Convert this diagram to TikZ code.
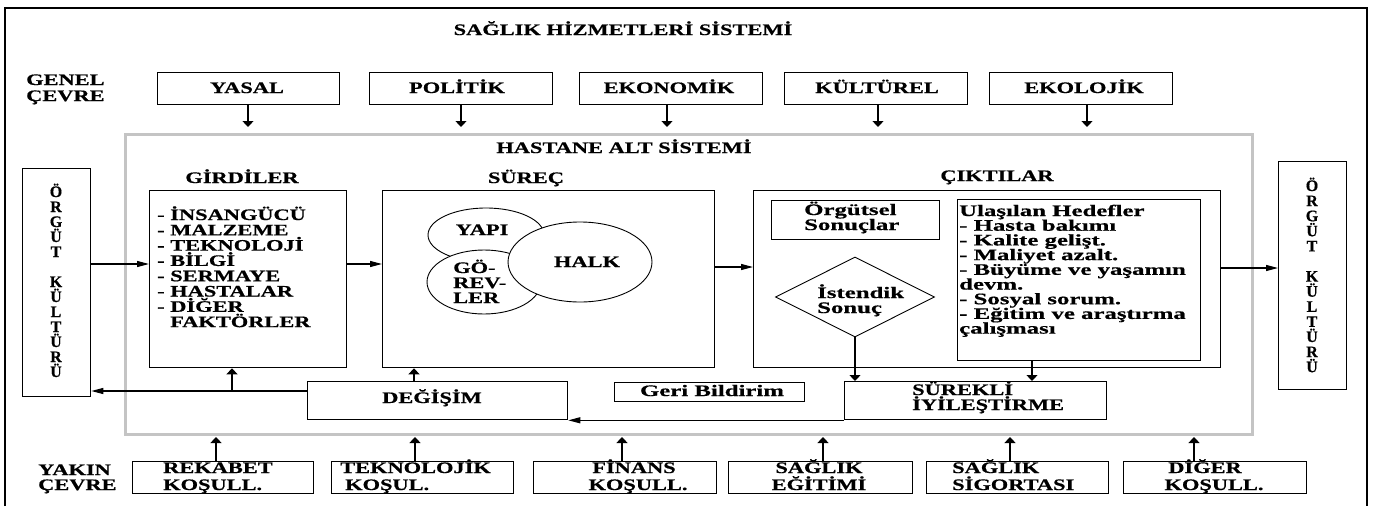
\documentclass[tikz,border=0pt]{standalone}
\usepackage{fontspec}
\usetikzlibrary{arrows.meta,shapes.geometric}
\newfontfamily\capf{Liberation Serif}[FakeStretch=1.4,FakeBold=0.6]
\newfontfamily\lowf{Liberation Serif}[FakeStretch=1.55,FakeBold=0.6]
\newfontfamily\plainf{Liberation Serif}[FakeBold=0.6]
\definecolor{hgray}{RGB}{196,196,196}
\newcommand\bx[6][]{\node[box,#1,minimum width={(#5-#3)*1pt},minimum height={(#6-#4)*1pt}] (#2) at (#3,#4) {};}
\begin{document}
\begin{tikzpicture}[x=1pt,y=-1pt,
  box/.style={draw, line width=1.3pt, inner sep=0pt, anchor=north west},
  captxt/.style={font=\capf\bfseries\fontsize{16}{16}\selectfont, inner sep=0pt},
  lowtxt/.style={font=\lowf\bfseries\fontsize{16}{16}\selectfont, inner sep=0pt},
  verttxt/.style={font=\plainf\bfseries\fontsize{16}{16}\selectfont, inner sep=0pt, anchor=base},
  conn/.style={line width=1.2pt},
  harr/.style={conn, -{Triangle[length=12pt,width=6pt]}},
  varr/.style={conn, -{Triangle[length=6pt,width=11pt]}},
  thinshape/.style={draw, line width=0.9pt, inner sep=0pt, fill=white},
]
\useasboundingbox (0,0) rectangle (1383,506);
\fill[white] (0,0) rectangle (1383,506);
% outer frame
\draw[line width=1.5pt] (5,506) -- (5,8) -- (1367,8) -- (1367,506);

% titles
\node[captxt, anchor=base] (title) at (623,35) {SAĞLIK HİZMETLERİ SİSTEMİ};
\node[captxt, anchor=base west] (gen1) at (26,85) {GENEL};
\node[captxt, anchor=base west] (gen2) at (26,101) {ÇEVRE};
\node[captxt, anchor=base west] (yak1) at (38,475) {YAKIN};
\node[captxt, anchor=base west] (yak2) at (38,490) {ÇEVRE};

% top boxes
\bx{yasal}{157}{72}{339}{104}
\bx{politik}{369}{72}{552}{104}
\bx{ekonomik}{579}{72}{762}{104}
\bx{kulturel}{784}{72}{967}{104}
\bx{ekolojik}{989}{72}{1172}{104}
\node[captxt, anchor=base] (yasalt) at (247,93) {YASAL};
\node[captxt, anchor=base] (politikt) at (457,93) {POLİTİK};
\node[captxt, anchor=base] (ekonomikt) at (669,93) {EKONOMİK};
\node[captxt, anchor=base] (kulturelt) at (877,93) {KÜLTÜREL};
\node[captxt, anchor=base] (ekolojikt) at (1084,93) {EKOLOJİK};

% hospital subsystem
\bx[draw=hgray, line width=3pt]{hastane}{124}{133}{1251}{433}
\node[captxt, anchor=base] (hastanet) at (624,153) {HASTANE ALT SİSTEMİ};

% organisational culture boxes
\bx{lorg}{22}{168}{90}{396}
\bx{rorg}{1278}{161}{1346}{389}
\foreach \t [count=\i from 0] in {Ö,R,G,Ü,T,,K,Ü,L,T,Ü,R,Ü}{
  \node[verttxt] (lo\i) at (56,{197+15*\i}) {\t};
  \node[verttxt] (ro\i) at (1312,{191+15.1*\i}) {\t};
}

% inputs
\node[captxt, anchor=base] (girdt) at (242,183) {GİRDİLER};
\bx{gird}{149}{190}{346}{367}
\foreach \t [count=\i from 0] in {- İNSANGÜCÜ,- MALZEME,- TEKNOLOJİ,- BİLGİ,- SERMAYE,- HASTALAR,- DİĞER,\phantom{- }FAKTÖRLER}{
  \node[captxt, anchor=base west] (gl\i) at (157,{220+15.3*\i}) {\t};
}

% process
\node[captxt, anchor=base] (surect) at (526,183) {SÜREÇ};
\bx{surec}{382}{190}{714}{367}
\node[thinshape, ellipse, minimum width=116pt, minimum height=54pt] (yapi) at (486,235) {};
\node[thinshape, ellipse, minimum width=114pt, minimum height=64pt] (gorev) at (484,282) {};
\node[thinshape, ellipse, minimum width=144pt, minimum height=80pt] (halk) at (580,262) {};
\node[captxt, anchor=base] (yapit) at (482,235) {YAPI};
\node[captxt, anchor=base] (halkt) at (587,267) {HALK};
\node[captxt, anchor=base west] (gor1) at (453,273) {GÖ-};
\node[captxt, anchor=base west] (gor2) at (453,288) {REV-};
\node[captxt, anchor=base west] (gor3) at (453,303) {LER};

% outputs
\node[captxt, anchor=base] (ciktit) at (997,181) {ÇIKTILAR};
\bx{cikti}{753}{190}{1220}{367}
\bx{orgs}{771}{200}{939}{239}
\node[lowtxt, anchor=base west] (orgs1) at (804,215) {Örgütsel};
\node[lowtxt, anchor=base west] (orgs2) at (804,230) {Sonuçlar};
\node[diamond, draw, line width=0.9pt, inner sep=0pt, aspect=2, minimum width=159pt, minimum height=80pt] (ist) at (855,297) {};
\node[lowtxt, anchor=base west] (ist1) at (817,298) {İstendik};
\node[lowtxt, anchor=base west] (ist2) at (817,313) {Sonuç};
\bx{ulas}{957}{199}{1200}{360}
\foreach \t [count=\i from 0] in {Ulaşılan Hedefler,- Hasta bakımı,- Kalite gelişt.,- Maliyet azalt.,- Büyüme ve yaşamın,devm.,- Sosyal sorum.,- Eğitim ve araştırma,çalışması}{
  \node[lowtxt, anchor=base west] (ul\i) at (959,{216+14.7*\i}) {\t};
}

% lower boxes inside
\bx{degisim}{307}{381}{567}{419}
\node[captxt, anchor=base] (degisimt) at (432,403) {DEĞİŞİM};
\bx{geri}{614}{382}{804}{401}
\node[lowtxt, anchor=base] (gerit) at (712,396) {Geri Bildirim};
\bx{surekli}{844}{381}{1106}{419}
\node[captxt, anchor=base west] (sur1) at (912,395) {SÜREKLİ};
\node[captxt, anchor=base west] (sur2) at (912,410) {İYİLEŞTİRME};

% bottom boxes
\bx{rek}{132}{461}{313}{493}
\bx{tek}{331}{461}{513}{493}
\bx{fin}{533}{461}{716}{493}
\bx{sae}{728}{461}{912}{493}
\bx{sas}{926}{461}{1108}{493}
\bx{dig}{1123}{461}{1306}{493}
\node[captxt, anchor=base west] (rek1) at (163,473) {REKABET};
\node[captxt, anchor=base west] (rek2) at (163,490) {KOŞULL.};
\node[captxt, anchor=base west] (tek1) at (340,473) {TEKNOLOJİK};
\node[captxt, anchor=base west] (tek2) at (345,490) {KOŞUL.};
\node[captxt, anchor=base] (fin1) at (634,473) {FİNANS};
\node[captxt, anchor=base] (fin2) at (638,490) {KOŞULL.};
\node[captxt, anchor=base] (sae1) at (819,473) {SAĞLIK};
\node[captxt, anchor=base] (sae2) at (819,490) {EĞİTİMİ};
\node[captxt, anchor=base west] (sas1) at (952,473) {SAĞLIK};
\node[captxt, anchor=base west] (sas2) at (952,490) {SİGORTASI};
\node[captxt, anchor=base] (dig1) at (1205,473) {DİĞER};
\node[captxt, anchor=base] (dig2) at (1214,490) {KOŞULL.};

% top arrows
\coordinate (t1) at (248,127);
\coordinate (t2) at (461,127);
\coordinate (t3) at (667,127);
\coordinate (t4) at (878,127);
\coordinate (t5) at (1087,127);
\draw[varr] (yasal.south -| t1) -- (t1);
\draw[varr] (politik.south -| t2) -- (t2);
\draw[varr] (ekonomik.south -| t3) -- (t3);
\draw[varr] (kulturel.south -| t4) -- (t4);
\draw[varr] (ekolojik.south -| t5) -- (t5);

% bottom arrows
\coordinate (b1) at (216,437);
\coordinate (b2) at (415,437);
\coordinate (b3) at (622,437);
\coordinate (b4) at (823,437);
\coordinate (b5) at (1010,437);
\coordinate (b6) at (1194,437);
\draw[varr] (rek.north -| b1) -- (b1);
\draw[varr] (tek.north -| b2) -- (b2);
\draw[varr] (fin.north -| b3) -- (b3);
\draw[varr] (sae.north -| b4) -- (b4);
\draw[varr] (sas.north -| b5) -- (b5);
\draw[varr] (dig.north -| b6) -- (b6);

% main flow
\coordinate (h1) at (0,264);
\coordinate (h2) at (0,267);
\coordinate (h3) at (0,268);
\draw[harr] (lorg.east |- h1) -- (gird.west |- h1);
\draw[harr] (gird.east |- h1) -- (surec.west |- h1);
\draw[harr] (surec.east |- h2) -- (cikti.west |- h2);
\draw[harr] (cikti.east |- h3) -- (rorg.west |- h3);

% change loop
\coordinate (j1) at (232,391);
\coordinate (j2) at (414,0);
\coordinate (j3) at (1032,0);
\draw[harr] (degisim.west |- j1) -- (lorg.east |- j1);
\draw[varr] (j1) -- (gird.south -| j1);
\draw[varr] (degisim.north -| j2) -- (surec.south -| j2);
\draw[harr] (surekli.south west) -- (degisim.south east);
\draw[varr] (ist.south) -- (surekli.north -| ist.south);
\draw[varr] (ulas.south -| j3) -- (surekli.north -| j3);
\end{tikzpicture}
\end{document}
